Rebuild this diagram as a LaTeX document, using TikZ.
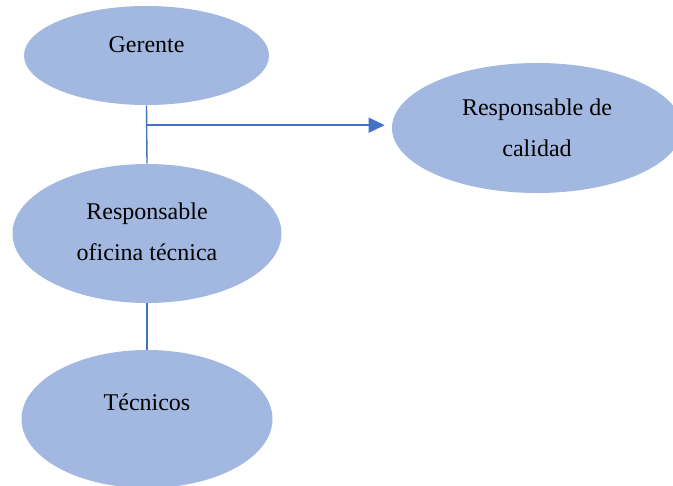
\documentclass[tikz,border=0pt]{standalone}
\usepackage{fontspec}
\setmainfont{Liberation Serif}
\usetikzlibrary{shapes.geometric, arrows.meta, positioning, calc}
\definecolor{unitfill}{HTML}{A2B8E0}
\definecolor{linkblue}{HTML}{4472C4}

\begin{document}
\begin{tikzpicture}[
    x=0.5pt, y=-0.5pt,
    unit/.style={ellipse, fill=unitfill, draw=none, inner sep=0pt},
    txt/.style={align=center, inner sep=0pt, font=\fontsize{12}{20.5}\selectfont},
    link/.style={draw=linkblue, line width=0.7pt},
    arrow/.style={link, -{Triangle[length=8pt, width=7.5pt]}}
]
\useasboundingbox (0,0) rectangle (673,486);

% Nodes
\node (gerente) [unit, minimum width=122.5pt, minimum height=49.5pt] at (146.5,55.5) {};
\node (calidad) [unit, minimum width=145pt, minimum height=65pt] at (537,128) {};
\node (oficina) [unit, minimum width=134.5pt, minimum height=69.5pt] at (147,233.5) {};
\node (tecnicos) [unit, minimum width=125.5pt, minimum height=69pt] at (147,419) {};

% Texts
\node (gerente-t) [txt] at ([yshift=5.25pt]gerente.center) {Gerente};
\node (calidad-t) [txt] at (calidad.center) {Responsable de\\calidad};
\node (oficina-t) [txt] at ([yshift=1pt]oficina.center) {Responsable\\oficina técnica};
\node (tecnicos-t) [txt] at ([yshift=8.5pt]tecnicos.center) {Técnicos};

% Connectors
\coordinate (branch) at ($(gerente.south)!0.34!(oficina.north)$);
\draw [link] (gerente.south) -- (oficina.north);
\draw [arrow, shorten >=3.5pt] (branch) -- (branch -| calidad.west);
\draw [link] (oficina.south) -- (tecnicos.north);

\end{tikzpicture}
\end{document}
